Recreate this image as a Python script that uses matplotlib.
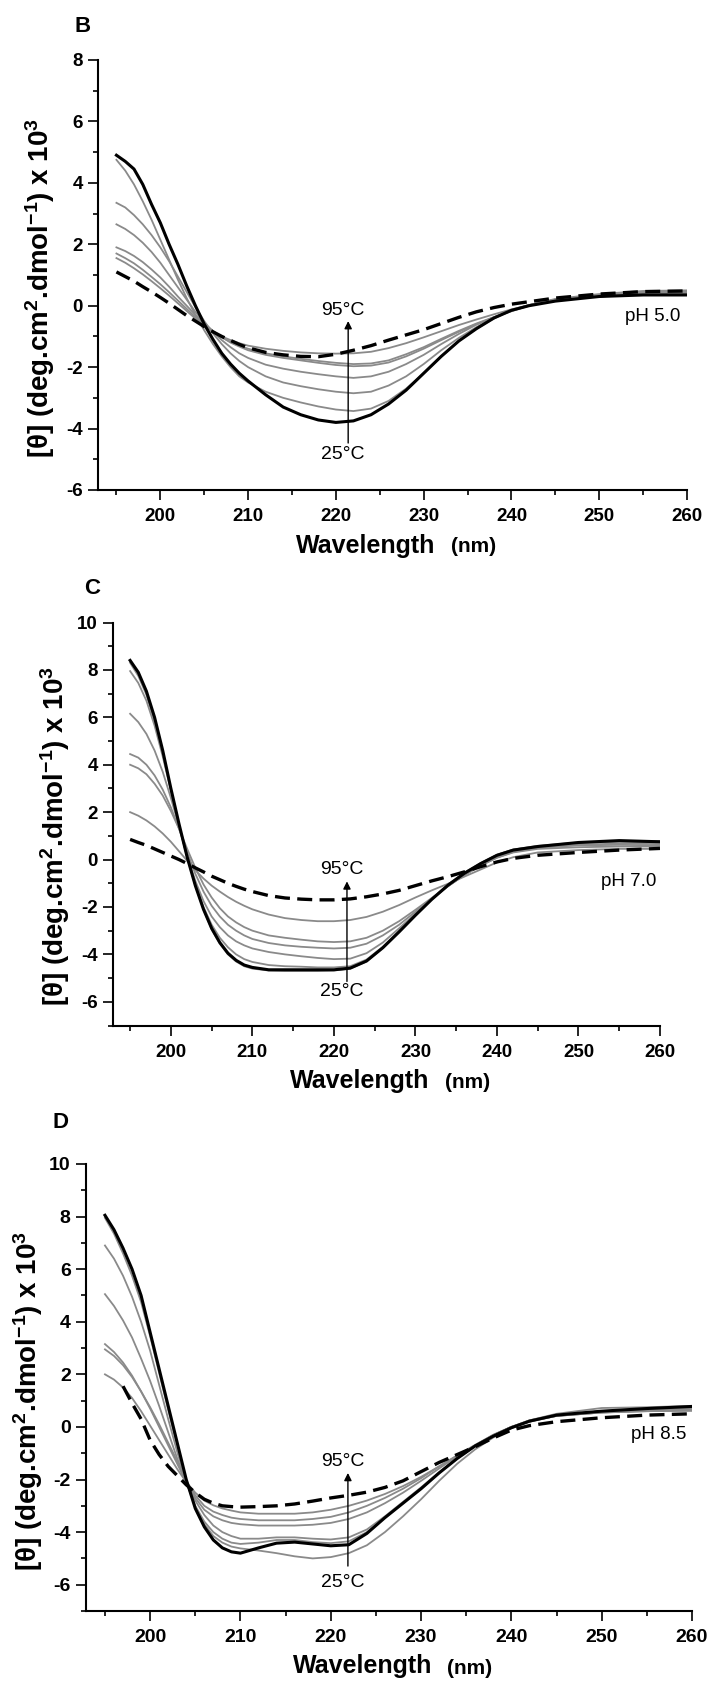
import matplotlib
matplotlib.use("Agg")
import matplotlib.pyplot as plt
import numpy as np
from matplotlib.ticker import MultipleLocator

plt.rcParams["font.family"] = ["Liberation Sans", "DejaVu Sans"]
plt.rcParams["axes.unicode_minus"] = False
plt.rcParams["mathtext.fontset"] = "custom"
plt.rcParams["mathtext.bf"] = "Liberation Sans:bold"
plt.rcParams["mathtext.rm"] = "Liberation Sans"
plt.rcParams["mathtext.default"] = "bf"

# wavelength grid (nm) shared by all curves
wavelength = [195, 196, 197, 198, 199, 200, 201, 202, 203, 204, 205, 206, 207, 208, 209, 210,
              212, 214, 216, 218, 220, 222, 224, 226, 228, 230, 232, 234, 236, 238, 240, 242,
              245, 250, 255, 260]

# ---- panel B, pH 5.0 ----
b_25 = [4.9, 4.7, 4.45, 3.95, 3.3, 2.7, 2.0, 1.35, 0.65, 0.0, -0.6, -1.1, -1.55, -1.9, -2.2, -2.45,
        -2.9, -3.3, -3.55, -3.72, -3.8, -3.75, -3.55, -3.2, -2.75, -2.2, -1.65, -1.15, -0.75, -0.4, -0.15, 0.0,
        0.15, 0.3, 0.35, 0.35]
b_mid = [
    [4.75, 4.4, 3.95, 3.4, 2.8, 2.15, 1.5, 0.85, 0.25, -0.3, -0.8, -1.25, -1.65, -2.0, -2.3, -2.5,
     -2.8, -3.0, -3.15, -3.28, -3.38, -3.43, -3.35, -3.1, -2.7, -2.2, -1.65, -1.15, -0.75, -0.42, -0.15, 0.02,
     0.18, 0.3, 0.38, 0.4],
    [3.35, 3.2, 2.95, 2.65, 2.3, 1.9, 1.45, 0.95, 0.45, -0.05, -0.5, -0.9, -1.25, -1.55, -1.8, -2.0,
     -2.3, -2.5, -2.62, -2.72, -2.8, -2.85, -2.8, -2.6, -2.3, -1.9, -1.45, -1.05, -0.7, -0.4, -0.15, 0.02,
     0.18, 0.3, 0.38, 0.4],
    [2.65, 2.5, 2.3, 2.05, 1.75, 1.4, 1.0, 0.6, 0.2, -0.2, -0.55, -0.85, -1.12, -1.35, -1.55, -1.7,
     -1.92, -2.05, -2.15, -2.23, -2.3, -2.35, -2.3, -2.15, -1.9, -1.6, -1.25, -0.92, -0.62, -0.38, -0.15, 0.02,
     0.2, 0.32, 0.4, 0.42],
    [1.9, 1.78, 1.62, 1.42, 1.18, 0.92, 0.62, 0.3, 0.0, -0.3, -0.58, -0.82, -1.02, -1.2, -1.33, -1.45,
     -1.6, -1.7, -1.78, -1.86, -1.93, -1.97, -1.95, -1.85, -1.65, -1.4, -1.12, -0.85, -0.6, -0.38, -0.18, 0.0,
     0.2, 0.33, 0.42, 0.45],
    [1.7, 1.55, 1.38, 1.17, 0.94, 0.7, 0.44, 0.17, -0.1, -0.37, -0.62, -0.85, -1.03, -1.18, -1.3, -1.4,
     -1.55, -1.65, -1.73, -1.8, -1.86, -1.9, -1.88, -1.78, -1.58, -1.35, -1.08, -0.82, -0.58, -0.37, -0.17, 0.0,
     0.2, 0.35, 0.45, 0.47],
    [1.55, 1.4, 1.22, 1.02, 0.8, 0.57, 0.33, 0.08, -0.17, -0.42, -0.64, -0.84, -1.0, -1.12, -1.22, -1.3,
     -1.4, -1.47, -1.52, -1.55, -1.56, -1.55, -1.5, -1.38, -1.22, -1.03, -0.83, -0.63, -0.45, -0.28, -0.12, 0.02,
     0.22, 0.38, 0.48, 0.5],
]
b_95 = [1.1, 0.95, 0.8, 0.62, 0.45, 0.27, 0.08, -0.12, -0.32, -0.5, -0.68, -0.85, -1.0, -1.13, -1.26, -1.37,
        -1.52, -1.6, -1.65, -1.66, -1.58, -1.45, -1.3, -1.12, -0.95, -0.78, -0.58, -0.38, -0.2, -0.06, 0.05, 0.13,
        0.25, 0.38, 0.46, 0.48]

# ---- panel C, pH 7.0 ----
c_25 = [8.4, 7.9, 7.1, 6.0, 4.6, 3.0, 1.5, 0.1, -1.1, -2.1, -2.9, -3.5, -3.95, -4.25, -4.45, -4.55,
        -4.65, -4.65, -4.65, -4.65, -4.65, -4.58, -4.28, -3.72, -3.05, -2.35, -1.68, -1.08, -0.58, -0.17, 0.18, 0.4,
        0.55, 0.72, 0.8, 0.75]
c_mid = [
    [8.3, 7.75, 6.95, 5.85, 4.5, 2.95, 1.45, 0.08, -1.1, -2.1, -2.95, -3.55, -4.0, -4.3, -4.5, -4.6,
     -4.68, -4.7, -4.7, -4.7, -4.68, -4.6, -4.3, -3.72, -3.02, -2.33, -1.67, -1.07, -0.57, -0.16, 0.2, 0.42,
     0.58, 0.72, 0.78, 0.78],
    [7.95, 7.45, 6.7, 5.65, 4.35, 2.9, 1.45, 0.1, -1.05, -2.0, -2.75, -3.3, -3.7, -4.0, -4.2, -4.32,
     -4.45, -4.5, -4.52, -4.55, -4.55, -4.5, -4.22, -3.68, -3.0, -2.3, -1.65, -1.05, -0.55, -0.15, 0.2, 0.42,
     0.56, 0.7, 0.75, 0.72],
    [6.15, 5.8, 5.3, 4.6, 3.7, 2.6, 1.4, 0.15, -0.9, -1.75, -2.4, -2.85, -3.2, -3.45, -3.62, -3.75,
     -3.9, -4.0, -4.08, -4.15, -4.2, -4.18, -3.95, -3.5, -2.9, -2.28, -1.68, -1.12, -0.65, -0.25, 0.1, 0.35,
     0.5, 0.62, 0.68, 0.65],
    [4.45, 4.3, 4.0, 3.55, 2.95, 2.2, 1.3, 0.3, -0.6, -1.35, -1.95, -2.4, -2.75, -3.0, -3.2, -3.35,
     -3.52, -3.62, -3.68, -3.72, -3.75, -3.72, -3.55, -3.2, -2.75, -2.2, -1.65, -1.12, -0.65, -0.25, 0.08, 0.32,
     0.5, 0.6, 0.62, 0.6],
    [4.0, 3.85, 3.6, 3.2, 2.7, 2.05, 1.3, 0.45, -0.35, -1.05, -1.6, -2.05, -2.4, -2.65, -2.85, -3.0,
     -3.2, -3.3, -3.38, -3.45, -3.48, -3.45, -3.3, -3.0, -2.6, -2.12, -1.62, -1.12, -0.65, -0.25, 0.08, 0.3,
     0.45, 0.52, 0.55, 0.55],
    [2.0, 1.85, 1.65, 1.4, 1.1, 0.75, 0.35, -0.05, -0.45, -0.8, -1.1, -1.35, -1.58, -1.78, -1.95, -2.1,
     -2.32, -2.47, -2.55, -2.6, -2.6, -2.55, -2.42, -2.2, -1.92, -1.6, -1.3, -1.02, -0.72, -0.42, -0.12, 0.1,
     0.3, 0.4, 0.45, 0.45],
]
c_95 = [0.85, 0.72, 0.6, 0.45, 0.3, 0.15, 0.0, -0.17, -0.35, -0.52, -0.7, -0.85, -1.0, -1.13, -1.25, -1.35,
        -1.52, -1.62, -1.67, -1.7, -1.7, -1.66, -1.57, -1.45, -1.3, -1.1, -0.9, -0.72, -0.52, -0.3, -0.1, 0.05,
        0.18, 0.3, 0.4, 0.47]

# ---- panel D, pH 8.5 ----
d_25 = [8.05, 7.5, 6.8, 6.0, 5.0, 3.6, 2.2, 0.8, -0.6, -2.0, -3.1, -3.8, -4.3, -4.6, -4.75, -4.8,
        -4.6, -4.42, -4.38, -4.45, -4.52, -4.48, -4.05, -3.45, -2.9, -2.35, -1.75, -1.2, -0.72, -0.35, -0.03, 0.22,
        0.45, 0.6, 0.7, 0.78]
d_mid = [
    [7.95, 7.35, 6.6, 5.75, 4.75, 3.45, 2.05, 0.65, -0.7, -2.05, -3.05, -3.7, -4.15, -4.4, -4.55, -4.62,
     -4.7, -4.8, -4.92, -5.0, -4.95, -4.8, -4.5, -4.0, -3.4, -2.75, -2.05, -1.4, -0.85, -0.4, -0.05, 0.2,
     0.42, 0.55, 0.62, 0.65],
    [6.9, 6.4, 5.75, 4.95, 4.0, 2.9, 1.6, 0.3, -0.95, -2.1, -3.0, -3.6, -4.0, -4.25, -4.4, -4.45,
     -4.4, -4.3, -4.3, -4.38, -4.42, -4.35, -4.0, -3.45, -2.9, -2.35, -1.75, -1.2, -0.72, -0.32, 0.0, 0.25,
     0.45, 0.6, 0.68, 0.72],
    [5.05, 4.6, 4.05, 3.4, 2.6, 1.75, 0.8, -0.2, -1.2, -2.1, -2.8, -3.35, -3.75, -4.0, -4.15, -4.25,
     -4.25, -4.2, -4.2, -4.25, -4.28, -4.2, -3.9, -3.4, -2.85, -2.3, -1.72, -1.18, -0.72, -0.32, 0.0, 0.22,
     0.42, 0.55, 0.6, 0.62],
    [3.15, 2.85, 2.45, 1.95, 1.35, 0.7, 0.0, -0.7, -1.4, -2.1, -2.7, -3.15, -3.4, -3.55, -3.65, -3.7,
     -3.75, -3.75, -3.75, -3.72, -3.65, -3.5, -3.25, -2.9, -2.5, -2.05, -1.58, -1.12, -0.7, -0.32, 0.0, 0.22,
     0.42, 0.55, 0.6, 0.62],
    [2.95, 2.7, 2.35, 1.9, 1.35, 0.75, 0.1, -0.6, -1.3, -2.05, -2.6, -3.0, -3.22, -3.35, -3.45, -3.5,
     -3.55, -3.55, -3.55, -3.5, -3.42, -3.25, -3.0, -2.7, -2.35, -1.95, -1.5, -1.08, -0.68, -0.3, 0.0, 0.25,
     0.5, 0.72, 0.75, 0.8],
    [2.0, 1.8, 1.5, 1.1, 0.6, 0.05, -0.5, -1.05, -1.6, -2.1, -2.5, -2.8, -2.98, -3.1, -3.18, -3.25,
     -3.3, -3.3, -3.3, -3.25, -3.15, -3.0, -2.8, -2.55, -2.25, -1.9, -1.5, -1.1, -0.7, -0.3, 0.0, 0.2,
     0.45, 0.6, 0.65, 0.7],
]
d_95 = [np.nan, np.nan, 1.55, 0.9, 0.3, -0.5, -1.05, -1.5, -1.85, -2.2, -2.5, -2.75, -2.9, -3.0, -3.03, -3.05,
        -3.03, -3.0, -2.93, -2.82, -2.7, -2.6, -2.48, -2.3, -2.05, -1.7, -1.35, -1.05, -0.75, -0.42, -0.12, 0.05,
        0.2, 0.35, 0.45, 0.5]

GRAY = "#8a8a8a"
W, H = 711, 1682


def draw_panel(fig, box, ylims, cold, mids, hot, letter, ph, arrow, ph_pos, letter_pos, fs):
    left, right, top, bottom = box
    ax = fig.add_axes([left / W, 1 - bottom / H, (right - left) / W, (bottom - top) / H])
    x = np.array(wavelength)
    for g in mids:
        ax.plot(x, g, color=GRAY, lw=1.3, zorder=2)
    ax.plot(x, cold, color="black", lw=2.2, zorder=3)
    ax.plot(x, hot, color="black", lw=2.4, ls=(0, (4.5, 2.2)), zorder=3)

    ax.set_xlim(192.9, 260)
    ax.set_ylim(*ylims)
    ax.spines["top"].set_visible(False)
    ax.spines["right"].set_visible(False)
    for s in ("left", "bottom"):
        ax.spines[s].set_linewidth(1.5)
    ax.xaxis.set_major_locator(MultipleLocator(10))
    ax.xaxis.set_minor_locator(MultipleLocator(5))
    ax.yaxis.set_major_locator(MultipleLocator(2))
    ax.yaxis.set_minor_locator(MultipleLocator(1))
    ax.tick_params(which="major", direction="out", length=7, width=1.2, labelsize=fs, pad=4)
    ax.tick_params(which="minor", direction="out", length=3.6, width=1.2)
    ax.tick_params(axis="x", which="major", pad=6)
    for lbl in ax.get_xticklabels() + ax.get_yticklabels():
        lbl.set_fontweight("bold")

    ax.set_ylabel(r"[θ] (deg.cm$^{2}$.dmol$^{-1}$) x 10$^{3}$", fontsize=20, fontweight="bold")
    ax.yaxis.set_label_coords(-41 / (right - left), 0.47)

    ax.annotate("Wavelength", xy=(0.5, 0), xycoords="axes fraction", xytext=(31, -45),
                textcoords="offset points", ha="right", va="baseline", fontsize=18, fontweight="bold")
    ax.annotate("(nm)", xy=(0.5, 0), xycoords="axes fraction", xytext=(42, -45),
                textcoords="offset points", ha="left", va="baseline", fontsize=15, fontweight="bold")

    ax_x, y0, y1, y95, y25 = arrow
    ax.annotate("", xy=(ax_x, y1), xytext=(ax_x, y0),
                arrowprops=dict(arrowstyle="-|>", color="black", lw=1.0, mutation_scale=11,
                                shrinkA=0, shrinkB=0))
    ax.text(ax_x - 0.6, y95, "95°C", ha="center", va="center", fontsize=14)
    ax.text(ax_x - 0.6, y25, "25°C", ha="center", va="center", fontsize=14)
    ax.text(ph_pos[0], ph_pos[1], ph, ha="center", va="center", fontsize=13.5)
    fig.text(letter_pos[0] / W, 1 - letter_pos[1] / H, letter, ha="center", va="center",
             fontsize=16, fontweight="bold")
    return ax


fig = plt.figure(figsize=(W / 100, H / 100), dpi=100)

draw_panel(fig, (98, 687, 60, 490), (-6, 8), b_25, b_mid, b_95, "B", "pH 5.0",
           (221.4, -4.47, -0.5, -0.15, -4.85), (256.1, -0.35), (83, 26), 13.5)
draw_panel(fig, (113, 660, 622.5, 1025.5), (-7, 10), c_25, c_mid, c_95, "C", "pH 7.0",
           (221.6, -5.14, -0.92, -0.4, -5.55), (256.2, -0.92), (92.5, 588.5), 13.5)
draw_panel(fig, (86, 692, 1164, 1611), (-7, 10), d_25, d_mid, d_95, "D", "pH 8.5",
           (221.9, -5.29, -1.75, -1.33, -5.93), (256.3, -0.29), (60, 1122), 14)

fig.savefig("out.png", dpi=100)
